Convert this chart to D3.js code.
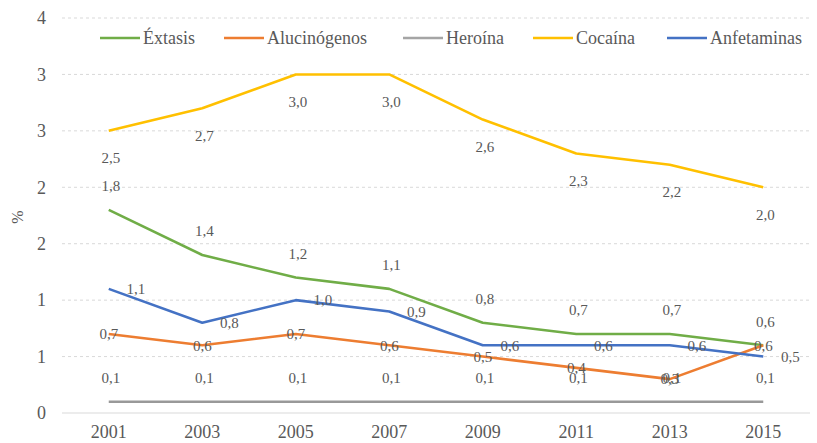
<!DOCTYPE html>
<html>
<head>
<meta charset="utf-8">
<script src="https://cdn.jsdelivr.net/npm/d3@7"></script>
</head>
<body style="margin:0">
<svg id="fig" width="817" height="443"></svg>
<script>
// Survey years
const years = ["2001", "2003", "2005", "2007", "2009", "2011", "2013", "2015"];

// Prevalence (%) per substance
const extasis      = [1.8, 1.4, 1.2, 1.1, 0.8, 0.7, 0.7, 0.6];
const alucinogenos = [0.7, 0.6, 0.7, 0.6, 0.5, 0.4, 0.3, 0.6];
const heroina      = [0.1, 0.1, 0.1, 0.1, 0.1, 0.1, 0.1, 0.1];
const cocaina      = [2.5, 2.7, 3.0, 3.0, 2.6, 2.3, 2.2, 2.0];
const anfetaminas  = [1.1, 0.8, 1.0, 0.9, 0.6, 0.6, 0.6, 0.5];

// Y axis ticks (labels shown rounded to whole numbers, half up)
const yTicks = [0, 0.5, 1, 1.5, 2, 2.5, 3, 3.5];
const yTickLabels = ["0", "1", "1", "2", "2", "3", "3", "4"];

const seriesNames = ["Éxtasis", "Alucinógenos", "Heroína", "Cocaína", "Anfetaminas"];
const seriesValues = [extasis, alucinogenos, heroina, cocaina, anfetaminas];

// Presentation: colour and data-label placement per series
const seriesStyle = {
  "Éxtasis":      { color: "#70AD47", label: "above" },
  "Alucinógenos": { color: "#ED7D31", label: "center" },
  "Heroína":      { color: "#A5A5A5", label: "above" },
  "Cocaína":      { color: "#FFC000", label: "below" },
  "Anfetaminas":  { color: "#4472C4", label: "right" }
};

const FONT = "'Liberation Serif', 'Tinos', 'Times New Roman', serif";
const TEXT_COLOR = "#595959";

const svg = d3.select("#fig");
const margin = { left: 62, right: 7 };
const W = 817;

const x = d3.scaleBand().domain(years).range([margin.left, W - margin.right]);
const y = d3.scaleLinear().domain([0, 3.5]).range([413, 18]);
const cx = d => x(d) + x.bandwidth() / 2;

// Applies the chart typeface to a text selection
function typeface(sel, size) {
  sel.attr("font-family", FONT)
     .attr("font-size", size)
     .style("font-family", FONT, "important")
     .style("font-size", size + "px", "important");
  return sel;
}

// Gridlines
svg.append("g").selectAll("line")
  .data(yTicks.filter(t => t > 0))
  .join("line")
  .attr("x1", margin.left).attr("x2", W - margin.right)
  .attr("y1", d => y(d)).attr("y2", d => y(d))
  .attr("stroke", "#d9d9d9").attr("stroke-width", 1)
  .attr("stroke-dasharray", "3,3");

// Base axis line
svg.append("line")
  .attr("x1", margin.left).attr("x2", W - margin.right)
  .attr("y1", y(0)).attr("y2", y(0))
  .attr("stroke", "#d9d9d9").attr("stroke-width", 1);

// Y axis labels
svg.append("g").selectAll("text")
  .data(yTicks)
  .join("text")
  .attr("x", 46).attr("y", d => y(d))
  .attr("dy", "0.35em").attr("text-anchor", "end")
  .attr("fill", TEXT_COLOR)
  .call(typeface, 18)
  .text((d, i) => yTickLabels[i]);

// X axis labels
svg.append("g").selectAll("text")
  .data(years)
  .join("text")
  .attr("x", d => cx(d)).attr("y", 425)
  .attr("dy", "0.71em").attr("text-anchor", "middle")
  .attr("fill", TEXT_COLOR)
  .call(typeface, 18)
  .text(d => d);

// Axis title
svg.append("text")
  .attr("transform", "translate(23,217) rotate(-90)")
  .attr("text-anchor", "middle")
  .attr("fill", TEXT_COLOR)
  .call(typeface, 16)
  .text("%");

// Lines
const line = d3.line().x((d, i) => cx(years[i])).y(d => y(d));
const series = seriesNames.map((n, i) => ({ name: n, values: seriesValues[i], style: seriesStyle[n] }));

svg.append("g").selectAll("path")
  .data(series)
  .join("path")
  .attr("d", d => line(d.values))
  .attr("fill", "none")
  .attr("stroke", d => d.name === "Heroína" ? "#999999" : d.style.color)
  .attr("stroke-width", 2.6)
  .attr("stroke-linejoin", "round");

// Data labels
const fmt = v => d3.format(".1f")(v).replace(".", ",");
const labelOffset = {
  above:  { dx: 2,  dy: -24 },
  below:  { dx: 2,  dy: 27 },
  center: { dx: 0,  dy: 0 },
  right:  { dx: 27, dy: 0 }
};
const labels = svg.append("g");
series.forEach(s => {
  const o = labelOffset[s.style.label];
  labels.selectAll(null)
    .data(s.values)
    .join("text")
    .attr("x", (d, i) => cx(years[i]) + o.dx)
    .attr("y", d => y(d) + o.dy)
    .attr("dy", "0.35em")
    .attr("text-anchor", "middle")
    .attr("fill", TEXT_COLOR)
    .call(typeface, 15)
    .text(d => fmt(d));
});

// Legend
const legendX = [100, 224, 403, 533, 667];
const legend = svg.append("g");
series.forEach((s, i) => {
  const g = legend.append("g").attr("transform", `translate(${legendX[i]},38)`);
  g.append("line").attr("x1", 0).attr("x2", 40).attr("y1", 0).attr("y2", 0)
    .attr("stroke", s.name === "Heroína" ? "#A5A5A5" : s.style.color).attr("stroke-width", 2.6);
  g.append("text").attr("x", 43).attr("y", 0).attr("dy", "0.35em")
    .attr("fill", TEXT_COLOR)
    .call(typeface, 18)
    .text(s.name);
});
</script>
</body>
</html>
